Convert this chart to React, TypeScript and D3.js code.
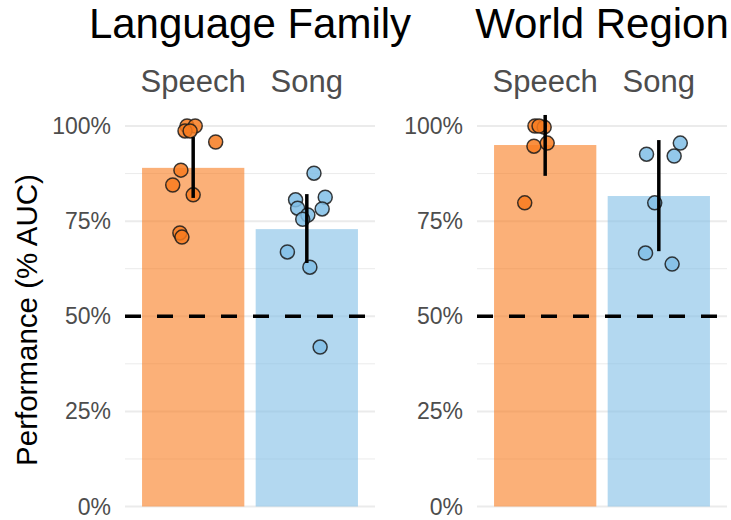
import { useEffect, useRef } from "react";
import * as d3 from "d3";

// --- Data ---
const facets = ["Language Family", "World Region"];
const categories = ["Speech", "Song"];
const yTicks = [0, 0.25, 0.5, 0.75, 1];
const chanceLevel = 0.5;

// bar heights (mean AUC) per facet, in category order
const meanLanguage = [0.89, 0.729];
const meanRegion = [0.95, 0.816];

// error bar ends per facet, in category order
const lowLanguage = [0.811, 0.64];
const highLanguage = [0.971, 0.821];
const lowRegion = [0.869, 0.671];
const highRegion = [1.029, 0.963];

// individual fold results
const speechLanguage = [1.0, 1.0, 0.987, 0.987, 0.958, 0.884, 0.845, 0.819, 0.719, 0.708];
const songLanguage = [0.876, 0.806, 0.813, 0.784, 0.782, 0.766, 0.755, 0.669, 0.629, 0.419];
const speechRegion = [1.0, 0.997, 1.0, 0.947, 0.955, 0.798];
const songRegion = [0.926, 0.955, 0.921, 0.798, 0.666, 0.637];

// horizontal jitter of each point, as a fraction of the bar width
const jitterSpeechLanguage = [-0.06, 0.02, -0.08, -0.03, 0.22, -0.12, -0.2, 0, -0.13, -0.11];
const jitterSongLanguage = [0.07, -0.11, 0.18, -0.09, 0.15, 0.01, -0.04, -0.19, 0.03, 0.13];
const jitterSpeechRegion = [-0.1, -0.01, -0.06, -0.11, 0.02, -0.2];
const jitterSongRegion = [-0.12, 0.21, 0.15, -0.04, -0.13, 0.13];

const colors = ["#f87b1e", "#80bee6"];

export default function App() {
  const svgRef = useRef<SVGSVGElement>(null);

  useEffect(() => {
    const svg = d3.select(svgRef.current);
    svg.selectAll("*").remove();

    const font = "'Liberation Sans', Arial, sans-serif";
    const y = d3.scaleLinear().domain([0, 1]).range([506.5, 126]);

    const panels = [
      {
        title: facets[0],
        range: [125, 375],
        means: meanLanguage,
        lows: lowLanguage,
        highs: highLanguage,
        points: [speechLanguage, songLanguage],
        jitter: [jitterSpeechLanguage, jitterSongLanguage],
      },
      {
        title: facets[1],
        range: [477, 727],
        means: meanRegion,
        lows: lowRegion,
        highs: highRegion,
        points: [speechRegion, songRegion],
        jitter: [jitterSpeechRegion, jitterSongRegion],
      },
    ];

    panels.forEach((p) => {
      const x = d3
        .scaleBand()
        .domain(categories)
        .range(p.range as [number, number])
        .paddingInner(0.1)
        .paddingOuter(0.15);
      const g = svg.append("g");
      const [x0, x1] = p.range;

      // minor grid lines between the major ticks
      const minor = d3.pairs(yTicks).map(([a, b]) => (a + b) / 2);
      g.selectAll("line.minor")
        .data(minor)
        .join("line")
        .attr("x1", x0)
        .attr("x2", x1)
        .attr("y1", (d) => y(d))
        .attr("y2", (d) => y(d))
        .attr("stroke", "#ebebeb")
        .attr("stroke-width", 1);
      g.selectAll("line.major")
        .data(yTicks)
        .join("line")
        .attr("x1", x0)
        .attr("x2", x1)
        .attr("y1", (d) => y(d))
        .attr("y2", (d) => y(d))
        .attr("stroke", "#ebebeb")
        .attr("stroke-width", 2);

      // y tick labels
      g.selectAll("text.tick")
        .data(yTicks)
        .join("text")
        .attr("x", x0 - 14)
        .attr("y", (d) => y(d) + 8)
        .attr("text-anchor", "end")
        .attr("font-family", font)
        .attr("font-size", 23)
        .attr("fill", "#4d4d4d")
        .text((d) => d3.format(".0%")(d));

      // bars
      g.selectAll("rect")
        .data(categories)
        .join("rect")
        .attr("x", (d) => x(d)!)
        .attr("y", (_, i) => y(p.means[i]))
        .attr("width", x.bandwidth())
        .attr("height", (_, i) => y(0) - y(p.means[i]))
        .attr("fill", (_, i) => colors[i])
        .attr("fill-opacity", 0.6);

      // chance level
      g.append("line")
        .attr("x1", x0)
        .attr("x2", x1)
        .attr("y1", y(chanceLevel))
        .attr("y2", y(chanceLevel))
        .attr("stroke", "#000")
        .attr("stroke-width", 3.5)
        .attr("stroke-dasharray", "16 16");

      // jittered points
      categories.forEach((c, ci) => {
        const cx = x(c)! + x.bandwidth() / 2;
        g.append("g")
          .selectAll("circle")
          .data(p.points[ci])
          .join("circle")
          .attr("cx", (_, i) => cx + p.jitter[ci][i] * x.bandwidth())
          .attr("cy", (d) => y(d))
          .attr("r", 7)
          .attr("fill", colors[ci])
          .attr("fill-opacity", 0.85)
          .attr("stroke", "#1a1a1a")
          .attr("stroke-opacity", 0.85)
          .attr("stroke-width", 1.5);
      });

      // error bars
      g.selectAll("line.err")
        .data(categories)
        .join("line")
        .attr("x1", (d) => x(d)! + x.bandwidth() / 2)
        .attr("x2", (d) => x(d)! + x.bandwidth() / 2)
        .attr("y1", (_, i) => y(p.lows[i]))
        .attr("y2", (_, i) => y(p.highs[i]))
        .attr("stroke", "#000")
        .attr("stroke-width", 3.5);

      // category labels on top
      g.selectAll("text.cat")
        .data(categories)
        .join("text")
        .attr("x", (d) => x(d)! + x.bandwidth() / 2)
        .attr("y", 92)
        .attr("text-anchor", "middle")
        .attr("font-family", font)
        .attr("font-size", 31)
        .attr("fill", "#4d4d4d")
        .text((d) => d);

      // facet title
      g.append("text")
        .attr("x", (x0 + x1) / 2)
        .attr("y", 38)
        .attr("text-anchor", "middle")
        .attr("font-family", font)
        .attr("font-size", 42)
        .attr("fill", "#000")
        .text(p.title);
    });

    // y axis title
    svg
      .append("text")
      .attr("transform", "translate(37,320) rotate(-90)")
      .attr("text-anchor", "middle")
      .attr("font-family", font)
      .attr("font-size", 29.5)
      .attr("fill", "#000")
      .text("Performance (% AUC)");
  }, []);

  return (
    <svg
      ref={svgRef}
      width={731}
      height={520}
      style={{ position: "absolute", left: 0, top: 0, background: "#fff" }}
    />
  );
}
